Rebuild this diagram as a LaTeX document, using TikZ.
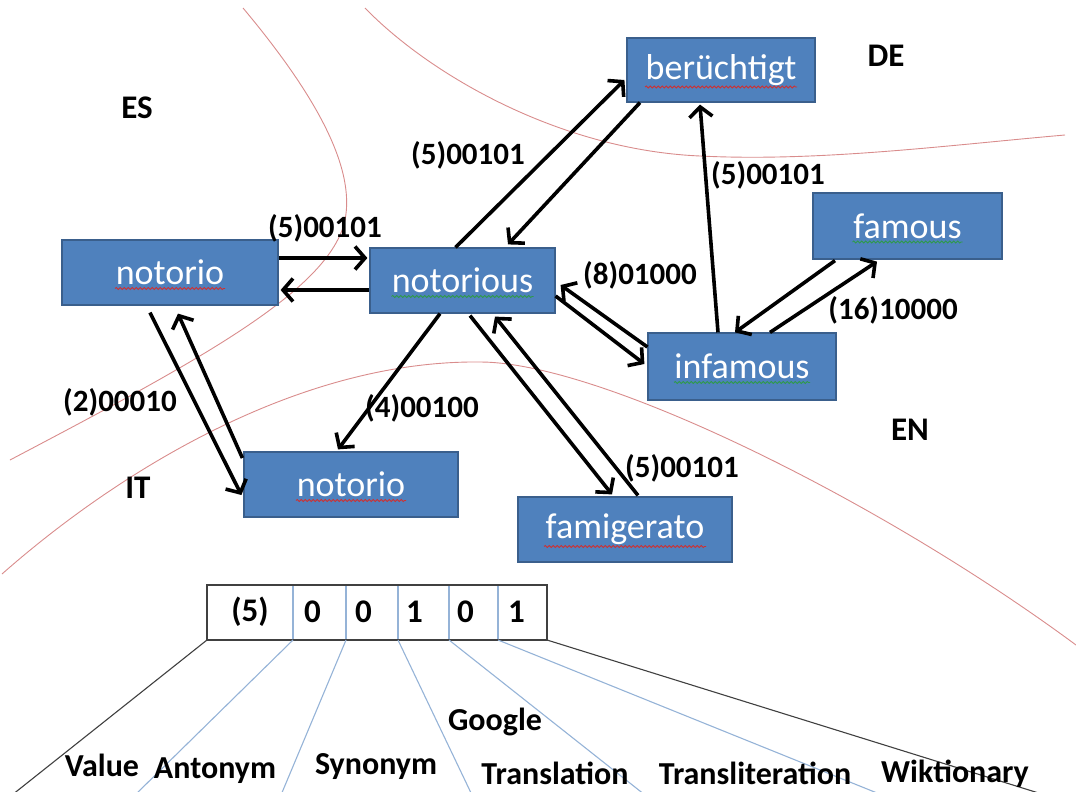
\documentclass[tikz,border=0pt]{standalone}
\usepackage{fontspec}
\setmainfont{Carlito}
\usetikzlibrary{arrows.meta,calc,decorations.pathmorphing}
\definecolor{boxblue}{HTML}{4F81BD}
\definecolor{boxedge}{HTML}{3A5F8C}
\definecolor{regionred}{HTML}{D98C8C}
\definecolor{celledge}{HTML}{95B3D7}
\definecolor{squigred}{HTML}{D03030}
\definecolor{squiggreen}{HTML}{2E9A4A}
\begin{document}
\begin{tikzpicture}[x=1pt,y=-1pt,
  word/.style={rectangle,fill=boxblue,draw=boxedge,line width=1.2pt,text=white,
    font=\fontsize{36}{40}\selectfont,inner sep=0pt},
  lbl/.style={font=\bfseries\fontsize{31}{34}\selectfont,inner sep=0pt},
  regionlbl/.style={font=\bfseries\fontsize{33}{36}\selectfont,inner sep=0pt},
  celllbl/.style={font=\bfseries\fontsize{33}{36}\selectfont,inner sep=0pt},
  bottomlbl/.style={font=\bfseries\fontsize{32}{35}\selectfont,inner sep=0pt},
  conn/.style={line width=3.6pt,-{Straight Barb[length=10pt,width=23pt]}},
  region/.style={draw=regionred,line width=0.9pt},
  squig/.style={line width=0.8pt,decorate,decoration={snake,amplitude=1pt,segment length=4pt}},
  fanblack/.style={draw=black!75,line width=1.1pt},
  fanblue/.style={draw=celledge,line width=1.1pt}
]
\useasboundingbox (0,0) rectangle (1076,792);

% region boundaries
\draw[region] (243,8) .. controls (320,100) and (355,170) .. (345,220)
  .. controls (330,290) and (200,360) .. (10,460);
\draw[region] (365,8) .. controls (430,75) and (560,150) .. (700,156)
  .. controls (820,162) and (950,145) .. (1065,135);
\draw[region] (2,574) .. controls (120,470) and (300,360) .. (480,362)
  .. controls (600,362) and (880,500) .. (1076,645);

% region names
\node[regionlbl] (es) at (137,108) {ES};
\node[regionlbl] (de) at (886,56) {DE};
\node[regionlbl] (en) at (910,430) {EN};
\node[regionlbl] (it) at (138,488) {IT};

% word nodes
\node[word,minimum width=216pt,minimum height=65pt] (ES) at (170,272.5) {notorio};
\node[word,minimum width=185pt,minimum height=65pt] (NS) at (462.5,280.5) {notorious};
\node[word,minimum width=188pt,minimum height=64pt] (BE) at (721,70) {berüchtigt};
\node[word,minimum width=189pt,minimum height=66pt] (FA) at (907.5,226) {famous};
\node[word,minimum width=188pt,minimum height=67pt] (IN) at (742,366.5) {infamous};
\node[word,minimum width=214pt,minimum height=65pt] (IT) at (351,484.5) {notorio};
\node[word,minimum width=214pt,minimum height=65pt] (FG) at (625,529.5) {famigerato};

% spell-check underlines
\draw[squig,squigred] ($(ES.center)+(-55,16)$) -- ($(ES.center)+(55,16)$);
\draw[squig,squiggreen] ($(NS.center)+(-71,16)$) -- ($(NS.center)+(71,16)$);
\draw[squig,squigred] ($(BE.center)+(-76,17)$) -- ($(BE.center)+(76,17)$);
\draw[squig,squiggreen] ($(FA.center)+(-55,16)$) -- ($(FA.center)+(55,16)$);
\draw[squig,squiggreen] ($(IN.center)+(-68,16)$) -- ($(IN.center)+(68,16)$);
\draw[squig,squigred] ($(IT.center)+(-55,16)$) -- ($(IT.center)+(55,16)$);
\draw[squig,squigred] ($(FG.center)+(-81,17)$) -- ($(FG.center)+(81,17)$);

% connectors
\draw[conn] ($(ES.east)+(0,-14.5)$) -- ($(NS.west)+(-2,-22.5)$);
\draw[conn] ($(NS.west)+(0,9.5)$) -- ($(ES.east)+(2,17.5)$);
\draw[conn] ($(NS.north)+(-7,0)$) -- ($(BE.west)+(-2,10)$);
\draw[conn] ($(BE.south)+(-81,0)$) -- ($(NS.north)+(45.5,-3)$);
\draw[conn] ($(IN.north)+(-24,0)$) -- ($(BE.south)+(-21,2)$);
\draw[conn] ($(IN.west)+(0,-19.5)$) -- ($(NS.east)+(5,4.5)$);
\draw[conn] ($(NS.east)+(0,15.5)$) -- ($(IN.west)+(-3,-2.5)$);
\draw[conn] ($(FA.south)+(-72.5,1)$) -- ($(IN.north)+(-7,0)$);
\draw[conn] ($(IN.north)+(28,0)$) -- ($(FA.south)+(-30.5,2)$);
\draw[conn] ($(NS.south)+(-22.5,0)$) -- ($(IT.north)+(-13,-2)$);
\draw[conn] ($(ES.south)+(-20,7)$) -- ($(IT.west)+(-2,10.5)$);
\draw[conn] ($(IT.west)+(-1,-26.5)$) -- ($(ES.south)+(8,8)$);
\draw[conn] ($(NS.south)+(7.5,2)$) -- ($(FG.north)+(-13,-2)$);
\draw[conn] ($(FG.north)+(13,-1)$) -- ($(NS.south)+(32.5,3)$);

% connector labels
\node[lbl] (l1) at (325,228) {(5)00101};
\node[lbl] (l2) at (468,155) {(5)00101};
\node[lbl] (l3) at (768,175) {(5)00101};
\node[lbl] (l4) at (640,275) {(8)01000};
\node[lbl] (l5) at (893,310) {(16)10000};
\node[lbl] (l6) at (422,408) {(4)00100};
\node[lbl] (l7) at (120,402) {(2)00010};
\node[lbl] (l8) at (682,468) {(5)00101};

% code table
\coordinate (t0) at (207,640);
\coordinate (t1) at (293,640);
\coordinate (t2) at (346,640);
\coordinate (t3) at (398,640);
\coordinate (t4) at (449,640);
\coordinate (t5) at (498,640);
\coordinate (t6) at (547,640);
\foreach \i in {1,...,5} {\draw[fanblue] (t\i) -- ++(0,-55);}
\draw[draw=black!75,line width=1.2pt] (207,585) rectangle (547,640);
\node[celllbl] (c0) at (250,612) {(5)};
\node[celllbl,anchor=west] (c1) at (304,612) {0};
\node[celllbl,anchor=west] (c2) at (355,612) {0};
\node[celllbl,anchor=west] (c3) at (406,612) {1};
\node[celllbl,anchor=west] (c4) at (457,612) {0};
\node[celllbl,anchor=west] (c5) at (508,612) {1};

% fan lines
\coordinate (b0) at (12,795);
\coordinate (b1) at (135,795);
\coordinate (b2) at (281,795);
\coordinate (b3) at (472,795);
\coordinate (b4) at (645,795);
\coordinate (b5) at (882,795);
\coordinate (b6) at (1045,795);
\draw[fanblack] (t0) -- (b0);
\draw[fanblue] (t1) -- (b1);
\draw[fanblue] (t2) -- (b2);
\draw[fanblue] (t3) -- (b3);
\draw[fanblue] (t4) -- (b4);
\draw[fanblue] (t5) -- (b5);
\draw[fanblack] (t6) -- (b6);

% field names
\node[bottomlbl] (fv) at (102,765) {Value};
\node[bottomlbl] (fa) at (215,771) {Antonym};
\node[bottomlbl] (fs) at (376,767) {Synonym};
\node[bottomlbl] (fg) at (495,722) {Google};
\node[bottomlbl] (ft) at (555,773) {Translation};
\node[bottomlbl] (fl) at (755,773) {Transliteration};
\node[bottomlbl] (fw) at (955,774) {Wiktionary};
\end{tikzpicture}
\end{document}
